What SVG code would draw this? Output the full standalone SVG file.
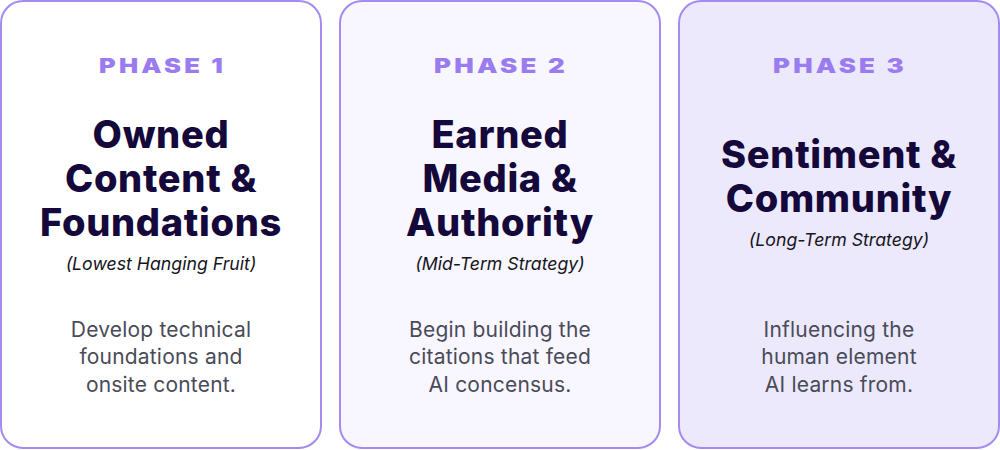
<svg xmlns="http://www.w3.org/2000/svg" width="1000" height="450" viewBox="0 0 1000 450">
<style>
.card{stroke:#a58bf0;stroke-width:2}
.phase{font-family:Inter,"Noto Sans",sans-serif;font-weight:900;font-size:20px;fill:#9b7cf0}
.title{font-family:Inter,"Noto Sans",sans-serif;font-weight:800;font-size:38px;letter-spacing:0.7px;fill:#14093a;text-anchor:middle}
.sub{font-family:Inter,"Noto Sans",sans-serif;font-style:italic;font-size:17.7px;fill:#15151c;text-anchor:middle}
.body{font-family:Inter,"Noto Sans",sans-serif;font-size:21px;letter-spacing:0.2px;fill:#4a4b58;text-anchor:middle}
</style>
<g id="phase1">
<rect class="card" x="1" y="1" width="320" height="447" rx="22" fill="#ffffff"/>
<text class="phase" x="99" y="73" textLength="127" lengthAdjust="spacingAndGlyphs" letter-spacing="2.5">PHASE 1</text>
<text class="title" x="161" y="148">Owned</text>
<text class="title" x="161" y="192">Content &amp;</text>
<text class="title" x="161" y="236">Foundations</text>
<text class="sub" x="161" y="270">(Lowest Hanging Fruit)</text>
<text class="body" x="161" y="337">Develop technical</text>
<text class="body" x="161" y="364">foundations and</text>
<text class="body" x="161" y="392">onsite content.</text>
</g>
<g id="phase2">
<rect class="card" x="340" y="1" width="320" height="447" rx="22" fill="#f8f6ff"/>
<text class="phase" x="434" y="73" textLength="134" lengthAdjust="spacingAndGlyphs" letter-spacing="2.5">PHASE 2</text>
<text class="title" x="500" y="148">Earned</text>
<text class="title" x="500" y="192">Media &amp;</text>
<text class="title" x="500" y="236">Authority</text>
<text class="sub" x="500" y="270">(Mid-Term Strategy)</text>
<text class="body" x="500" y="337">Begin building the</text>
<text class="body" x="500" y="364">citations that feed</text>
<text class="body" x="500" y="392">AI concensus.</text>
</g>
<g id="phase3">
<rect class="card" x="679" y="1" width="320" height="447" rx="22" fill="#ece9fd"/>
<text class="phase" x="773" y="73" textLength="134" lengthAdjust="spacingAndGlyphs" letter-spacing="2.5">PHASE 3</text>
<text class="title" x="839" y="168">Sentiment &amp;</text>
<text class="title" x="839" y="212">Community</text>
<text class="sub" x="839" y="246">(Long-Term Strategy)</text>
<text class="body" x="839" y="337">Influencing the</text>
<text class="body" x="839" y="364">human element</text>
<text class="body" x="839" y="392">AI learns from.</text>
</g>
<g id="connectors"/>
</svg>
